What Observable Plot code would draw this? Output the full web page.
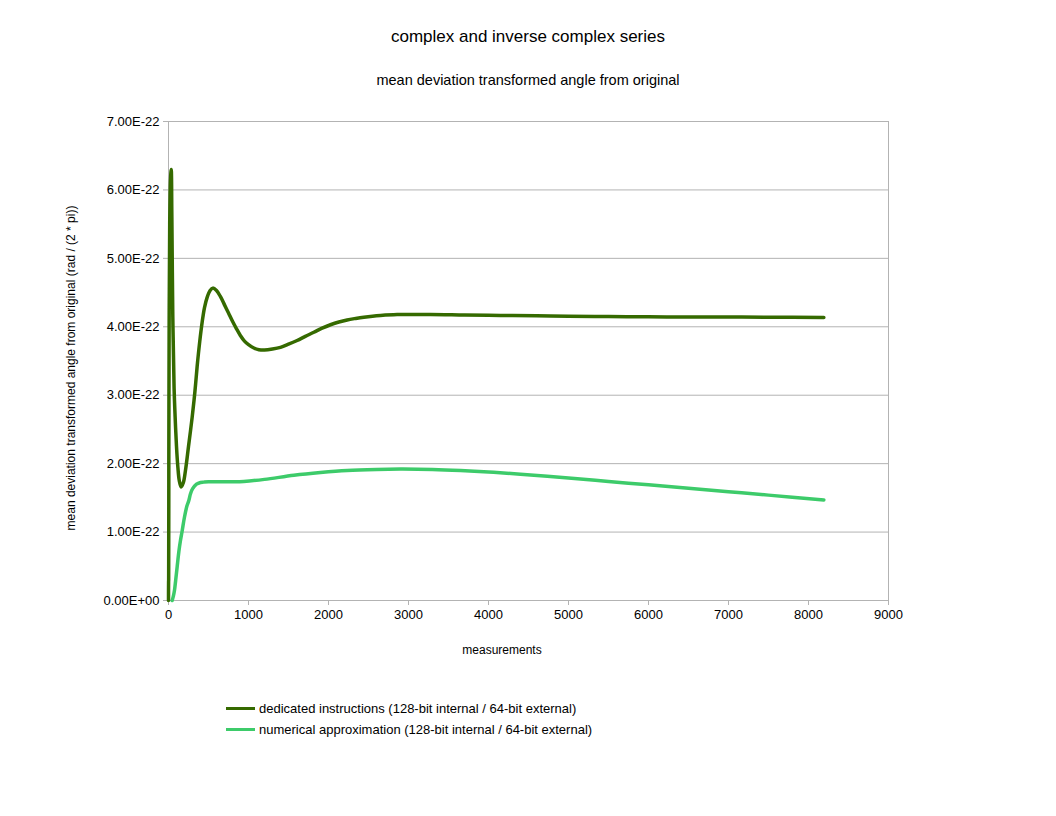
<!DOCTYPE html>
<html>
<head>
<meta charset="utf-8">
<script src="https://cdn.jsdelivr.net/npm/d3@7"></script>
<script src="https://cdn.jsdelivr.net/npm/@observablehq/plot@0.6"></script>
<style>
  body { margin: 0; background: #fff; font-family: "Liberation Sans", Arial, sans-serif; }
  #wrap { position: relative; width: 1056px; height: 816px; }
  .t { position: absolute; white-space: nowrap; color: #000; }
  #title { left: 0; width: 1056px; top: 27px; text-align: center; font-size: 17px; }
  #subtitle { left: 0; width: 1056px; top: 72px; text-align: center; font-size: 14.5px; }
  #xlabel { left: 402px; width: 200px; top: 643px; text-align: center; font-size: 12px; }
  #ylabel { left: 71px; top: 368px; font-size: 12px; transform: translate(-50%, -50%) rotate(-90deg); }
  .leg { left: 226px; font-size: 13px; }
  .leg span.sw { display: inline-block; width: 29px; height: 3px; vertical-align: middle; margin-right: 4px; position: relative; top: -1px; }
</style>
</head>
<body>
<div id="wrap">
  <div id="chart"></div>
  <div class="t" id="title">complex and inverse complex series</div>
  <div class="t" id="subtitle">mean deviation transformed angle from original</div>
  <div class="t" id="xlabel">measurements</div>
  <div class="t" id="ylabel">mean deviation transformed angle from original (rad / (2 * pi))</div>
  <div class="t leg" id="leg1" style="top:701px"><span class="sw" id="sw1"></span>dedicated instructions (128-bit internal / 64-bit external)</div>
  <div class="t leg" id="leg2" style="top:722px"><span class="sw" id="sw2"></span>numerical approximation (128-bit internal / 64-bit external)</div>
</div>
<script>
// Series names and colours
const seriesNames = [
  "dedicated instructions (128-bit internal / 64-bit external)",
  "numerical approximation (128-bit internal / 64-bit external)"
];
const seriesColors = ["#356a00", "#3dcb6a"];

// dedicated instructions: measurement index and value in units of 1E-22
const dedicatedX = [0, 1, 2, 4, 8, 15, 25, 34, 42, 54, 70, 83, 100, 117, 135, 158, 185, 212, 250, 296, 330, 358, 390, 421, 450, 483, 520, 554, 600, 650, 700, 750, 800, 850, 900, 950, 1000, 1067, 1130, 1200, 1300, 1400, 1500, 1608, 1710, 1817, 1920, 2025, 2130, 2233, 2340, 2442, 2550, 2650, 2858, 3275, 3700, 4150, 4600, 5000, 5500, 6000, 6500, 7000, 7500, 8192];
const dedicatedY = [0.0, 0.27, 0.3, 2.0, 4.0, 5.5, 6.15, 6.3, 5.6, 4.14, 3.1, 2.68, 2.25, 1.95, 1.75, 1.66, 1.72, 1.9, 2.25, 2.68, 3.05, 3.42, 3.78, 4.07, 4.28, 4.43, 4.53, 4.565, 4.53, 4.44, 4.32, 4.2, 4.08, 3.97, 3.87, 3.79, 3.74, 3.69, 3.665, 3.66, 3.675, 3.7, 3.745, 3.8, 3.86, 3.92, 3.98, 4.03, 4.07, 4.1, 4.122, 4.14, 4.155, 4.165, 4.178, 4.18, 4.172, 4.165, 4.16, 4.155, 4.15, 4.146, 4.143, 4.142, 4.14, 4.137];

// numerical approximation
const numericalX = [46, 60, 75, 90, 108, 130, 150, 171, 200, 230, 254, 275, 300, 350, 400, 441, 500, 600, 800, 941, 1200, 1567, 1900, 2233, 2600, 2900, 3300, 3650, 4000, 4400, 5000, 5500, 6000, 6500, 7000, 7500, 8192];
const numericalY = [0.0, 0.06, 0.15, 0.3, 0.49, 0.72, 0.88, 1.02, 1.22, 1.38, 1.46, 1.56, 1.63, 1.7, 1.725, 1.73, 1.735, 1.735, 1.735, 1.74, 1.77, 1.83, 1.87, 1.9, 1.915, 1.92, 1.915, 1.9, 1.878, 1.845, 1.79, 1.74, 1.69, 1.64, 1.59, 1.54, 1.47];

// axis ticks
const xTicks = [0, 1000, 2000, 3000, 4000, 5000, 6000, 7000, 8000, 9000];
const yTicksE22 = [0, 1, 2, 3, 4, 5, 6, 7];

const SCALE = 1e-22;
const rows = [];
dedicatedX.forEach((x, i) => rows.push({series: seriesNames[0], x, y: dedicatedY[i] * SCALE}));
numericalX.forEach((x, i) => rows.push({series: seriesNames[1], x, y: numericalY[i] * SCALE}));
const yTicks = yTicksE22.map(v => v * SCALE);
const fmtY = d => {
  const v = Math.round(d / SCALE);
  return v === 0 ? "0.00E+00" : v.toFixed(2) + "E-22";
};

const grid = "#b3b3b3";
const chart = Plot.plot({
  width: 1056,
  height: 816,
  marginLeft: 168,
  marginRight: 168,
  marginTop: 121,
  marginBottom: 216,
  style: {fontSize: "13px", fontFamily: "'Liberation Sans', Arial, sans-serif", color: "#000", background: "#fff"},
  x: {domain: [0, 9000], label: null},
  y: {domain: [0, 7 * SCALE], label: null},
  color: {domain: seriesNames, range: seriesColors},
  marks: [
    Plot.gridY(yTicks, {stroke: grid, strokeOpacity: 1}),
    Plot.frame({stroke: grid}),
    Plot.axisY(yTicks, {tickSize: 5, tickPadding: 4, stroke: grid, tickFormat: fmtY, label: null}),
    Plot.axisX(xTicks, {tickSize: 5, tickPadding: 4, stroke: grid, tickFormat: d => String(d), label: null}),
    Plot.line(rows.filter(d => d.series === seriesNames[1]), {x: "x", y: "y", stroke: "series", strokeWidth: 3.5, curve: "catmull-rom"}),
    Plot.line(rows.filter(d => d.series === seriesNames[0]), {x: "x", y: "y", stroke: "series", strokeWidth: 3.5, curve: "catmull-rom"})
  ]
});
document.getElementById("chart").appendChild(chart);
document.getElementById("sw1").style.background = seriesColors[0];
document.getElementById("sw2").style.background = seriesColors[1];
</script>
</body>
</html>
